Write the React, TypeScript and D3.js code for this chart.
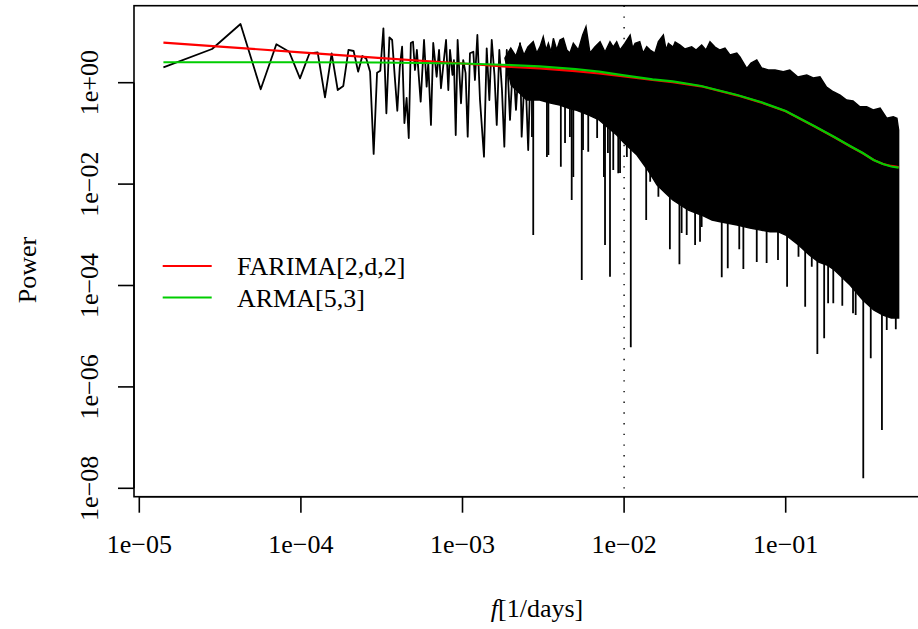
import React from 'react';
import * as d3 from 'd3';

// ---------- data ----------
// periodogram: individually visible points (low frequencies)
const pgramFreq = [1.41e-5, 2.82e-5, 4.23e-5, 5.64e-5, 7.05e-5, 8.46e-5, 9.87e-5, 1.13e-4, 1.27e-4, 1.41e-4,
  1.55e-4, 1.69e-4, 1.83e-4, 1.97e-4, 2.12e-4, 2.26e-4, 2.40e-4, 2.54e-4, 2.68e-4, 2.82e-4,
  2.96e-4, 3.10e-4, 3.24e-4, 3.38e-4, 3.53e-4, 3.67e-4, 3.81e-4, 3.95e-4, 4.09e-4, 4.23e-4,
  4.37e-4, 4.51e-4, 4.65e-4, 4.79e-4, 4.94e-4, 5.08e-4, 5.22e-4,
  5.51e-4, 5.78e-4, 6.0e-4, 6.14e-4, 6.38e-4, 6.59e-4, 6.92e-4, 7.16e-4, 7.36e-4, 7.61e-4,
  7.91e-4, 8.17e-4, 8.37e-4, 8.67e-4, 8.85e-4, 9.08e-4, 9.33e-4, 9.79e-4, 1.01e-3, 1.045e-3,
  1.077e-3, 1.112e-3, 1.167e-3, 1.194e-3, 1.236e-3, 1.283e-3, 1.358e-3, 1.412e-3, 1.466e-3, 1.517e-3,
  1.578e-3, 1.629e-3, 1.690e-3, 1.755e-3, 1.815e-3, 1.879e-3, 1.968e-3, 2.055e-3, 2.143e-3, 2.27e-3,
  2.323e-3, 2.44e-3, 2.55e-3, 2.65e-3];
const pgramPower = [2.01, 4.62, 14.4, 0.741, 5.72, 4.08, 1.22, 3.80, 3.98, 0.515,
  3.80, 0.718, 0.861, 4.42, 4.22, 1.65, 3.36, 2.97, 1.65, 0.0393,
  1.57, 1.72, 11.8, 0.249, 7.86, 6.95, 1.3, 0.280, 2.0, 5.13,
  0.160, 0.499, 0.081, 6.07, 6.44, 1.78, 4.42,
  0.422, 6.95, 0.834, 2.45, 0.147, 6.07, 1.31, 4.42, 0.776, 2.23,
  6.95, 0.718, 4.42, 1.42, 2.80, 0.093, 6.95, 0.393, 2.80, 1.55,
  0.086, 3.80, 4.08, 1.13, 8.73, 0.456, 0.0347, 4.77, 0.456, 6.95,
  1.36, 0.147, 4.42, 0.718, 0.0547, 4.42, 0.184, 2.80, 0.290, 5.98,
  0.086, 2.23, 0.0471, 3.52];

// periodogram, dense part: jagged top edge of the black band
const topFreq = [1.83e-3, 1.99e-3, 2.14e-3, 2.27e-3, 2.40e-3, 2.54e-3, 2.74e-3, 2.88e-3, 3.02e-3, 3.16e-3,
  3.29e-3, 3.40e-3, 3.53e-3, 3.65e-3, 3.83e-3, 4.01e-3, 4.21e-3, 4.42e-3, 4.62e-3, 4.85e-3,
  5.21e-3, 5.54e-3, 5.81e-3, 6.15e-3, 6.61e-3, 7.10e-3, 7.62e-3, 8.18e-3, 8.57e-3, 9.00e-3,
  9.44e-3, 1.01e-2, 1.09e-2, 1.13e-2, 1.17e-2, 1.25e-2, 1.31e-2, 1.38e-2, 1.45e-2, 1.55e-2,
  1.63e-2, 1.75e-2, 1.82e-2, 1.88e-2, 2.01e-2, 2.07e-2, 2.22e-2, 2.38e-2, 2.62e-2, 2.79e-2,
  3.02e-2, 3.21e-2, 3.40e-2, 3.65e-2, 3.92e-2, 4.21e-2, 4.52e-2, 4.98e-2, 5.21e-2, 5.74e-2,
  6.10e-2, 6.62e-2, 7.10e-2, 7.80e-2, 8.59e-2, 9.66e-2, 0.106, 0.119, 0.135, 0.148,
  0.163, 0.179, 0.197, 0.217, 0.238, 0.261, 0.288, 0.317, 0.348, 0.384,
  0.422, 0.463, 0.488, 0.5];
const topPower = [3.07, 4.83, 3.36, 5.80, 3.52, 5.06, 6.44, 3.85, 5.13, 8.07,
  4.42, 5.98, 4.03, 7.51, 4.42, 6.95, 7.51, 4.42, 3.85, 5.98,
  4.42, 8.73, 12.7, 3.85, 5.13, 6.44, 4.03, 6.44, 5.06, 6.44,
  4.42, 5.98, 8.73, 4.83, 5.98, 6.44, 3.85, 5.13, 4.42, 3.85,
  6.44, 8.73, 4.42, 5.98, 5.06, 6.35, 5.54, 4.62, 5.13, 4.42,
  5.54, 4.42, 6.44, 5.06, 4.42, 4.83, 3.52, 3.85, 3.21, 1.92,
  2.45, 2.80, 1.95, 1.78, 1.78, 1.65, 1.78, 1.30, 1.42, 1.24,
  1.31, 0.822, 0.664, 0.572, 0.456, 0.435, 0.336, 0.336, 0.290, 0.317,
  0.199, 0.213, 0.199, 0.117];

// periodogram, dense part: bottom edge of the solid band
const bottomFreq = [1.83e-3, 2e-3, 2.5e-3, 3e-3, 3.5e-3, 4e-3, 4.5e-3, 5e-3, 6e-3, 7e-3,
  8e-3, 9e-3, 1e-2, 1.2e-2, 1.4e-2, 1.6e-2, 1.8e-2, 2e-2, 2.5e-2, 3e-2,
  3.5e-2, 4e-2, 5e-2, 6e-2, 7e-2, 8e-2, 9e-2, 0.1, 0.12, 0.14,
  0.16, 0.18, 0.2, 0.25, 0.3, 0.35, 0.4, 0.45, 0.5];
const bottomPower = [3.07, 0.90, 0.456, 0.456, 0.398, 0.363, 0.317, 0.290, 0.231, 0.184,
  0.128, 0.093, 0.0647, 0.0375, 0.019, 0.0096, 0.00667, 0.00486, 0.00308, 0.00246,
  0.00196, 0.00179, 0.00156, 0.00136, 0.00124, 0.00114, 0.00114, 9.9e-4, 6.3e-4, 4.0e-4,
  2.9e-4, 2.54e-4, 2.02e-4, 1.02e-4, 5.18e-5, 3.29e-5, 2.62e-5, 2.29e-5, 2.29e-5];

// periodogram: downward excursions below the band (frequency, from, to)
const dipFreq = [2.69e-3, 2.74e-3, 3.33e-3, 3.40e-3, 4.06e-3, 4.31e-3, 4.62e-3, 4.74e-3, 4.85e-3, 5.47e-3,
  5.57e-3, 6.0e-3, 6.81e-3, 7.5e-3, 7.62e-3, 7.94e-3, 8.18e-3, 8.57e-3, 9.2e-3, 9.44e-3,
  1.04e-2, 1.10e-2, 1.37e-2, 1.45e-2, 1.63e-2, 1.92e-2, 2.20e-2, 2.27e-2, 2.44e-2, 2.75e-2,
  2.95e-2, 3.02e-2, 4.02e-2, 4.38e-2, 5.16e-2, 5.47e-2, 6.62e-2, 7.62e-2, 8.96e-2, 0.102,
  0.120, 0.132, 0.145, 0.157, 0.173, 0.183, 0.197, 0.224, 0.261, 0.271,
  0.302, 0.336, 0.348, 0.394, 0.422, 0.480];
const dipFrom = [1.0, 1.0, 0.8, 0.8, 0.7, 0.7, 0.6, 0.6, 0.6, 0.5,
  0.5, 0.45, 0.4, 0.35, 0.35, 0.3, 0.3, 0.25, 0.2, 0.2,
  0.15, 0.12, 0.04, 0.03, 0.02, 0.01, 0.008, 0.007, 0.006, 0.005,
  0.004, 0.004, 0.003, 0.003, 0.0025, 0.0025, 0.002, 0.002, 0.0018, 0.0015,
  0.001, 8e-4, 6e-4, 5e-4, 4e-4, 4e-4, 3e-4, 2.5e-4, 1.5e-4, 1.2e-4,
  8e-5, 6e-5, 6e-5, 4e-5, 3.5e-5, 3.5e-5];
const dipTo = [0.0849, 9.9e-4, 0.0343, 0.0375, 0.022, 0.0647, 0.0849, 0.00486, 0.0138, 1.28e-4,
  0.0471, 0.0436, 0.081, 0.0138, 6.3e-4, 0.041, 1.49e-4, 0.019, 0.0163, 0.0166,
  0.0343, 6.04e-6, 0.00196, 0.0111, 0.00564, 5.18e-4, 2.62e-4, 1.08e-3, 9.9e-4, 6.3e-4,
  7.3e-4, 0.00143, 1.45e-4, 2.18e-4, 5.18e-4, 2.11e-4, 2.91e-4, 2.78e-4, 3.18e-4, 9.5e-5,
  3.7e-4, 3.82e-5, 2.35e-4, 4.46e-6, 9.1e-6, 4.46e-5, 4.46e-5, 4.0e-5, 2.85e-5, 2.62e-5,
  1.57e-8, 3.66e-6, 3.82e-5, 1.41e-7, 1.32e-5, 1.37e-5];

// fitted spectra
const modelFreq = [1.41e-5, 3e-5, 1e-4, 3e-4, 1e-3, 2e-3, 3e-3, 5e-3, 7e-3, 1e-2,
  1.5e-2, 2e-2, 3e-2, 5e-2, 7e-2, 0.1, 0.15, 0.2, 0.25, 0.3,
  0.35, 0.4, 0.45, 0.5];
const farimaPower = [6.15, 5.20, 3.98, 3.10, 2.39, 2.04, 1.91, 1.69, 1.52, 1.33,
  1.13, 1.03, 0.849, 0.564, 0.410, 0.273, 0.138, 0.0838, 0.0557, 0.0405,
  0.0299, 0.0249, 0.0228, 0.0217];
const armaPower = [2.53, 2.53, 2.53, 2.50, 2.39, 2.23, 2.09, 1.86, 1.66, 1.39,
  1.16, 1.06, 0.861, 0.572, 0.416, 0.277, 0.140, 0.0849, 0.0564, 0.0410,
  0.0299, 0.0249, 0.0222, 0.0211];

const xTicks = [1e-5, 1e-4, 1e-3, 1e-2, 1e-1];
const xTickLabels = ['1e\u221205', '1e\u221204', '1e\u221203', '1e\u221202', '1e\u221201'];
const yTicks = [1, 1e-2, 1e-4, 1e-6, 1e-8];
const yTickLabels = ['1e+00', '1e\u221202', '1e\u221204', '1e\u221206', '1e\u221208'];
const markerFreq = 1e-2;
const legendLabels = ['FARIMA[2,d,2]', 'ARMA[5,3]'];
const legendColors = ['#ff0000', '#00cd00'];

// ---------- layout ----------
const W = 918;
const H = 629;
const PLOT = { left: 134, top: 5.7, right: 928, bottom: 496.7 };
const FONT = "'Liberation Serif', 'Times New Roman', serif";
const FS = 26;

type P = [number, number];

export default function App() {
  const x = d3.scaleLog().domain([1e-5, 1e-1]).range([139.3, 785.7]);
  const y = d3.scaleLog().domain([1, 1e-8]).range([82.7, 488.3]);

  const line = d3.line<P>().x(d => x(d[0])).y(d => y(d[1]));
  const pgPath = line(pgramFreq.map((f, i) => [f, pgramPower[i]] as P)) || '';
  const topPts = topFreq.map((f, i) => [f, topPower[i]] as P);
  const botPts = bottomFreq.map((f, i) => [f, bottomPower[i]] as P).reverse();
  const bandPath = (line([...topPts, ...botPts]) || '') + 'Z';
  const dips = dipFreq.map((f, i) => line([[f, dipFrom[i]], [f, dipTo[i]]]) || '');
  const farimaPath = line(modelFreq.map((f, i) => [f, farimaPower[i]] as P)) || '';
  const armaPath = line(modelFreq.map((f, i) => [f, armaPower[i]] as P)) || '';

  const yAxisTop = y(yTicks[0]);
  const yAxisBot = y(yTicks[yTicks.length - 1]);
  const xAxisL = x(xTicks[0]);
  const xAxisR = x(xTicks[xTicks.length - 1]);

  return (
    <svg width={W} height={H} style={{ position: 'absolute', left: 0, top: 0, background: '#fff' }}
      fontFamily={FONT} fontSize={FS}>
      <defs>
        <clipPath id="plotclip">
          <rect x={PLOT.left} y={PLOT.top} width={PLOT.right - PLOT.left} height={PLOT.bottom - PLOT.top} />
        </clipPath>
      </defs>
      <g clipPath="url(#plotclip)">
        <path d={bandPath} fill="#000" stroke="#000" strokeWidth={1.4} strokeLinejoin="miter" />
        {dips.map((d, i) => <path key={'d' + i} d={d} stroke="#000" strokeWidth={1.8} fill="none" />)}
        <path d={pgPath} fill="none" stroke="#000" strokeWidth={1.8} strokeLinejoin="round" />
        <line x1={x(markerFreq)} x2={x(markerFreq)} y1={PLOT.top} y2={PLOT.bottom}
          stroke="#000" strokeWidth={1.4} strokeDasharray="1.4 9.3" />
        <path d={farimaPath} fill="none" stroke={legendColors[0]} strokeWidth={2.2} />
        <path d={armaPath} fill="none" stroke={legendColors[1]} strokeWidth={2.2} />
      </g>
      {/* box */}
      <rect x={PLOT.left} y={PLOT.top} width={PLOT.right - PLOT.left} height={PLOT.bottom - PLOT.top}
        fill="none" stroke="#000" strokeWidth={1.6} />
      {/* x axis */}
      <line x1={xAxisL} x2={xAxisR} y1={PLOT.bottom} y2={PLOT.bottom} stroke="#000" strokeWidth={1.6} />
      {xTicks.map((t, i) => (
        <g key={'xt' + i}>
          <line x1={x(t)} x2={x(t)} y1={PLOT.bottom} y2={PLOT.bottom + 16} stroke="#000" strokeWidth={1.6} />
          <text x={x(t)} y={553} textAnchor="middle">{xTickLabels[i]}</text>
        </g>
      ))}
      {/* y axis */}
      <line x1={PLOT.left} x2={PLOT.left} y1={yAxisTop} y2={yAxisBot} stroke="#000" strokeWidth={1.6} />
      {yTicks.map((t, i) => (
        <g key={'yt' + i}>
          <line x1={PLOT.left - 16} x2={PLOT.left} y1={y(t)} y2={y(t)} stroke="#000" strokeWidth={1.6} />
          <text transform={`translate(98, ${y(t)}) rotate(-90)`} textAnchor="middle">{yTickLabels[i]}</text>
        </g>
      ))}
      {/* axis titles */}
      <text x={537} y={617} textAnchor="middle">
        <tspan fontStyle="italic">f</tspan>[1/days]
      </text>
      <text transform="translate(36, 270) rotate(-90)" textAnchor="middle">Power</text>
      {/* legend */}
      {legendLabels.map((lab, i) => (
        <g key={'lg' + i}>
          <line x1={162.7} x2={211.7} y1={266 + i * 31.5} y2={266 + i * 31.5} stroke={legendColors[i]} strokeWidth={2} />
          <text x={237} y={275 + i * 31.5}>{lab}</text>
        </g>
      ))}
    </svg>
  );
}
